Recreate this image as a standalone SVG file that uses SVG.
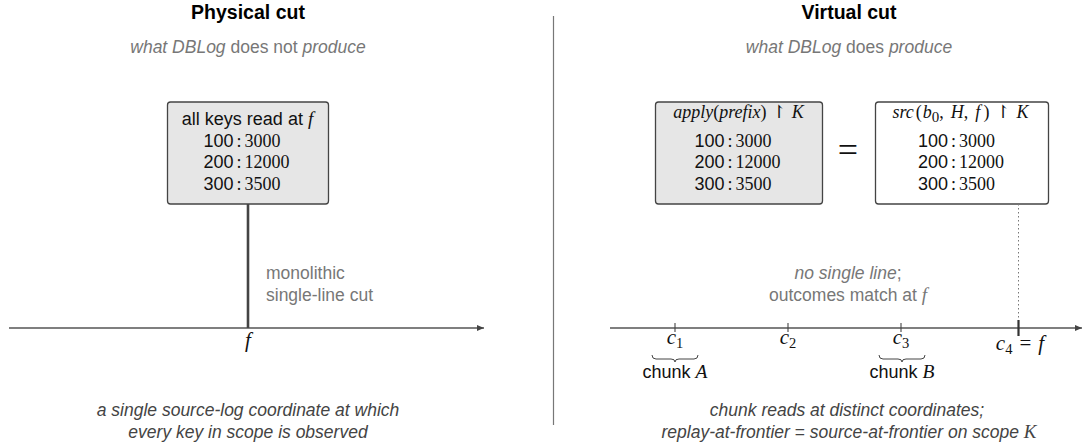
<svg xmlns="http://www.w3.org/2000/svg" width="1085" height="444" viewBox="0 0 1085 444">
<defs>
<style>
.title{font-family:"Liberation Sans",Arial,sans-serif;font-weight:bold;font-size:19.5px;fill:#000;text-anchor:middle}
.sub{font-family:"Liberation Sans",Arial,sans-serif;font-size:17.5px;fill:#777;text-anchor:middle}
.cap{font-family:"Liberation Sans",Arial,sans-serif;font-size:17.5px;fill:#444;font-style:italic;text-anchor:middle}
.note{font-family:"Liberation Sans",Arial,sans-serif;font-size:17.5px;fill:#777}
.bx{font-family:"Liberation Sans",Arial,sans-serif;font-size:18px;fill:#111}
.ser{font-family:"Liberation Serif","Times New Roman",serif}
.mi{font-family:"Liberation Serif","Times New Roman",serif;font-style:italic}
.sym{font-family:"DejaVu Serif","Liberation Serif",serif;font-style:normal}
.it{font-style:italic}
.up{font-style:normal}
.box{stroke:#444;stroke-width:1.3}
.gray{fill:#e6e6e6}
.white{fill:#fff}
.axis{stroke:#555;stroke-width:1.4;fill:none}
.tick{stroke:#444;stroke-width:1.1}
.brace{stroke:#444;stroke-width:1;fill:none}
.math{font-family:"Liberation Serif","Times New Roman",serif;font-size:21px;fill:#111;text-anchor:middle}
</style>
<marker id="arr" markerWidth="8" markerHeight="6" refX="7" refY="3" orient="auto" markerUnits="userSpaceOnUse">
<path d="M0,0 L7,3 L0,6 Z" fill="#444"/>
</marker>
</defs>
<rect width="1085" height="444" fill="#fff"/>

<g id="divider">
<line x1="553.5" y1="16" x2="553.5" y2="425" stroke="#777" stroke-width="1.2"/>
</g>

<g id="left-panel-labels">
<text class="title" x="248" y="19">Physical cut</text>
<text class="sub" x="248" y="53"><tspan class="it">what DBLog</tspan> does not <tspan class="it">produce</tspan></text>
<text class="note" x="266" y="279">monolithic</text>
<text class="note" x="266" y="301">single-line cut</text>
<text class="cap" x="248" y="416">a single source-log coordinate at which</text>
<text class="cap" x="248" y="438">every key in scope is observed</text>
</g>

<g id="right-panel-labels">
<text class="title" x="849" y="19">Virtual cut</text>
<text class="sub" x="849" y="53"><tspan class="it">what DBLog</tspan> does <tspan class="it">produce</tspan></text>
<text class="note" x="848" y="279" text-anchor="middle"><tspan class="it">no single line</tspan>;</text>
<text class="note" x="848" y="301" text-anchor="middle">outcomes match at <tspan class="mi" font-size="19">f</tspan></text>
<text class="cap" x="847" y="416">chunk reads at distinct coordinates;</text>
<text class="cap" x="849" y="438">replay-at-frontier <tspan class="up">=</tspan> source-at-frontier on scope <tspan class="mi" font-size="19">K</tspan></text>
</g>

<g id="box-physical">
<rect class="box gray" x="167.5" y="102" width="161" height="102" rx="3"/>
<text class="bx" x="247.5" y="124.5" text-anchor="middle" font-size="17.6">all keys read at <tspan class="mi" font-size="19">f</tspan></text>
<text class="bx" x="203.5" y="146.5">100<tspan class="ser" dx="3">:</tspan><tspan class="ser" dx="3">3000</tspan></text>
<text class="bx" x="203.5" y="168">200<tspan class="ser" dx="3">:</tspan><tspan class="ser" dx="3">12000</tspan></text>
<text class="bx" x="203.5" y="189.5">300<tspan class="ser" dx="3">:</tspan><tspan class="ser" dx="3">3500</tspan></text>
</g>

<g id="box-apply">
<rect class="box gray" x="655.5" y="102" width="167" height="102" rx="3"/>
<text class="bx ser" x="738.5" y="118" text-anchor="middle" font-size="21"><tspan class="it">apply</tspan>(<tspan class="it">prefix</tspan>)<tspan class="sym" font-size="18" dx="5">↾</tspan><tspan class="it" dx="5">K</tspan></text>
<text class="bx" x="694.5" y="146.5">100<tspan class="ser" dx="3">:</tspan><tspan class="ser" dx="3">3000</tspan></text>
<text class="bx" x="694.5" y="168">200<tspan class="ser" dx="3">:</tspan><tspan class="ser" dx="3">12000</tspan></text>
<text class="bx" x="694.5" y="189.5">300<tspan class="ser" dx="3">:</tspan><tspan class="ser" dx="3">3500</tspan></text>
</g>

<g id="equals">
<text x="848" y="162" font-family="Liberation Serif,serif" font-size="36" fill="#111" text-anchor="middle">=</text>
</g>

<g id="box-src">
<rect class="box white" x="875.5" y="102" width="173" height="102" rx="3"/>
<text class="bx ser" x="960.5" y="118" text-anchor="middle" font-size="21"><tspan class="it">src</tspan><tspan dx="2">(</tspan><tspan class="it" dx="1">b</tspan><tspan font-size="15" dy="4">0</tspan><tspan dy="-4">,</tspan><tspan class="it" dx="7">H</tspan>,<tspan class="it" dx="7">f</tspan><tspan dx="3">)</tspan><tspan class="sym" font-size="18" dx="6">↾</tspan><tspan class="it" dx="6">K</tspan></text>
<text class="bx" x="918" y="146.5">100<tspan class="ser" dx="3">:</tspan><tspan class="ser" dx="3">3000</tspan></text>
<text class="bx" x="918" y="168">200<tspan class="ser" dx="3">:</tspan><tspan class="ser" dx="3">12000</tspan></text>
<text class="bx" x="918" y="189.5">300<tspan class="ser" dx="3">:</tspan><tspan class="ser" dx="3">3500</tspan></text>
</g>

<g id="axis-left">
<line class="axis" x1="9" y1="328" x2="484" y2="328" marker-end="url(#arr)"/>
<text class="math" x="248" y="347"><tspan class="it">f</tspan></text>
</g>

<g id="axis-right">
<line class="axis" x1="610" y1="328" x2="1082" y2="328" marker-end="url(#arr)"/>
<line class="tick" x1="675" y1="323" x2="675" y2="332"/>
<line class="tick" x1="788" y1="323" x2="788" y2="332"/>
<line class="tick" x1="901" y1="323" x2="901" y2="332"/>
<line x1="1018.5" y1="320" x2="1018.5" y2="336" stroke="#333" stroke-width="2.2"/>
<text class="math" x="675" y="344"><tspan class="it">c</tspan><tspan font-size="14.5" dy="4">1</tspan></text>
<text class="math" x="788" y="344"><tspan class="it">c</tspan><tspan font-size="14.5" dy="4">2</tspan></text>
<text class="math" x="901" y="344"><tspan class="it">c</tspan><tspan font-size="14.5" dy="4">3</tspan></text>
<text class="math" x="1020" y="350"><tspan class="it">c</tspan><tspan font-size="14.5" dy="4">4</tspan><tspan dy="-4" dx="7">=</tspan><tspan class="it" dx="7">f</tspan></text>
</g>

<g id="chunk-A">
<path class="brace" d="M652,355 Q652,359 656,359 L671,359 Q675,359 675,362 Q675,359 679,359 L694,359 Q698,359 698,355"/>
<text class="bx" x="675" y="378" text-anchor="middle" font-size="17.5">chunk <tspan class="mi" font-size="19.5">A</tspan></text>
</g>

<g id="chunk-B">
<path class="brace" d="M879,355 Q879,359 883,359 L898,359 Q902,359 902,362 Q902,359 906,359 L921,359 Q925,359 925,355"/>
<text class="bx" x="902" y="378" text-anchor="middle" font-size="17.5">chunk <tspan class="mi" font-size="19.5">B</tspan></text>
</g>

<g id="connectors">
<line x1="248" y1="204" x2="248" y2="328" stroke="#444" stroke-width="2.6"/>
<line x1="1018.5" y1="204" x2="1018.5" y2="320" stroke="#777" stroke-width="1" stroke-dasharray="1.5,2.5"/>
</g>
</svg>
